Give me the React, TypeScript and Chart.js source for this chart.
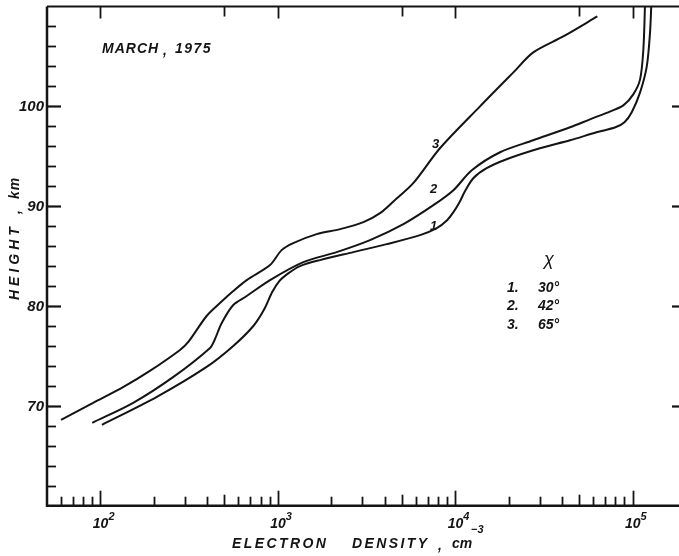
import React, { useEffect, useRef } from "react";
import { Chart, registerables } from "chart.js";
Chart.register(...registerables);

// Electron density (cm^-3) and height (km) for each solar zenith angle
const density30 = [102, 208, 397, 561, 728, 840, 930, 1020, 1150, 1334, 1729, 2666, 4110, 6339, 7870, 9000, 9772, 10650, 11350, 12650, 15040, 19490, 30000, 44400, 62600, 80000, 90000, 98900, 110200, 120200, 125400, 127500];
const height30 = [68.1, 70.9, 73.9, 76.0, 78.0, 79.7, 81.4, 82.5, 83.3, 84.0, 84.6, 85.4, 86.2, 87.1, 87.8, 88.6, 89.4, 90.5, 91.5, 92.8, 93.8, 94.7, 95.8, 96.6, 97.4, 97.9, 98.4, 99.4, 101.4, 104.0, 107.4, 110.2];

const density42 = [90, 153, 258, 415, 440, 483, 561, 668, 904, 1393, 2148, 3311, 5105, 7534, 9772, 12400, 17900, 27540, 44400, 57540, 75000, 88700, 100900, 110200, 115000, 117500];
const height42 = [68.3, 70.3, 72.9, 75.8, 76.6, 78.3, 80.1, 81.0, 82.6, 84.4, 85.4, 86.6, 88.2, 90.1, 91.6, 93.6, 95.4, 96.6, 97.9, 98.7, 99.5, 100.1, 101.2, 102.7, 105.7, 110.2];

const density65 = [60, 91, 135, 190, 281, 313, 397, 472, 561, 668, 904, 1051, 1222, 1656, 2245, 3037, 3770, 4500, 5800, 8200, 13800, 21280, 27540, 40640, 63250];
const height65 = [68.6, 70.3, 71.9, 73.5, 75.6, 76.4, 79.0, 80.3, 81.5, 82.6, 84.1, 85.6, 86.3, 87.2, 87.7, 88.4, 89.3, 90.5, 92.3, 95.8, 100.0, 103.4, 105.4, 107.0, 109.0];

const curveNumbers = ["1", "2", "3"];
const legendAngles = ["30°", "42°", "65°"];
const heightTickLabels = [70, 80, 90, 100];
const densityDecades = [100, 1000, 10000, 100000];
const decadeExponents = ["2", "3", "4", "5"];

const X_MIN = 50;
const X_MAX = 200000;
const Y_MIN = 60;
const Y_MAX = 110;

const FONT = '"Liberation Sans", Arial, sans-serif';
const INK = "#141414";

function toPoints(xs: number[], ys: number[]) {
  return xs.map((x, i) => ({ x, y: ys[i] }));
}

const paperAxes = {
  id: "paperAxes",
  afterDatasetsDraw(chart: any) {
    const { ctx, chartArea: a, scales } = chart;
    const xs = scales.x;
    const ys = scales.y;
    ctx.save();
    ctx.strokeStyle = INK;
    ctx.fillStyle = INK;
    ctx.lineCap = "butt";

    // frame
    ctx.lineWidth = 2.5;
    ctx.beginPath();
    ctx.moveTo(a.left, a.top);
    ctx.lineTo(a.left, a.bottom);
    ctx.lineTo(a.right, a.bottom);
    ctx.stroke();
    ctx.lineWidth = 2;
    ctx.beginPath();
    ctx.moveTo(a.left, a.top);
    ctx.lineTo(a.right, a.top);
    ctx.lineTo(a.right, a.bottom);
    ctx.stroke();

    // x ticks (inward)
    ctx.lineWidth = 1.8;
    for (let e = 1; e <= 5; e++) {
      for (let m = 1; m <= 9; m++) {
        const v = m * Math.pow(10, e);
        if (v <= X_MIN || v >= X_MAX) continue;
        const px = Math.round(xs.getPixelForValue(v)) + 0.5;
        const len = m === 1 ? 15 : m === 5 ? 11 : 9;
        ctx.beginPath();
        ctx.moveTo(px, a.bottom);
        ctx.lineTo(px, a.bottom - len);
        ctx.stroke();
        if (m === 1 || m === 5) {
          const tl = m === 1 ? 12 : 10;
          ctx.beginPath();
          ctx.moveTo(px, a.top);
          ctx.lineTo(px, a.top + tl);
          ctx.stroke();
        }
      }
    }

    // y ticks (inward)
    for (let h = Y_MIN + 2; h < Y_MAX; h += 2) {
      const py = Math.round(ys.getPixelForValue(h)) + 0.5;
      const major = h % 10 === 0;
      ctx.lineWidth = major ? 2.2 : 1.8;
      ctx.beginPath();
      ctx.moveTo(a.left, py);
      ctx.lineTo(a.left + (major ? 14 : 9), py);
      ctx.stroke();
      if (major) {
        ctx.beginPath();
        ctx.moveTo(a.right, py);
        ctx.lineTo(a.right - 14, py);
        ctx.stroke();
      }
    }

    // y tick labels
    ctx.font = `italic bold 15px ${FONT}`;
    ctx.textAlign = "right";
    ctx.textBaseline = "middle";
    heightTickLabels.forEach((h) => {
      ctx.fillText(String(h), a.left - 3, ys.getPixelForValue(h) + 1);
    });

    // x tick labels: 10^n
    ctx.textBaseline = "alphabetic";
    densityDecades.forEach((v, i) => {
      const px = xs.getPixelForValue(v);
      ctx.font = `italic bold 14px ${FONT}`;
      ctx.textAlign = "right";
      ctx.fillText("10", px + 8, a.bottom + 22);
      ctx.font = `italic bold 11px ${FONT}`;
      ctx.textAlign = "left";
      ctx.fillText(decadeExponents[i], px + 8, a.bottom + 14);
    });

    // x axis title
    ctx.textAlign = "left";
    ctx.font = `italic bold 14px ${FONT}`;
    (ctx as any).letterSpacing = "2.4px";
    ctx.fillText("ELECTRON", 232, 548);
    ctx.fillText("DENSITY", 352, 548);
    (ctx as any).letterSpacing = "0px";
    ctx.fillText(",", 438, 550);
    ctx.fillText("cm", 452, 548);
    ctx.font = `italic bold 11px ${FONT}`;
    ctx.fillText("−3", 471, 533);

    // y axis title (rotated)
    ctx.save();
    ctx.translate(19, 0);
    ctx.rotate(-Math.PI / 2);
    ctx.font = `italic bold 14px ${FONT}`;
    (ctx as any).letterSpacing = "4px";
    ctx.textAlign = "left";
    ctx.fillText("HEIGHT", -300, 0);
    (ctx as any).letterSpacing = "0px";
    ctx.fillText(",", -214, 1);
    (ctx as any).letterSpacing = "1px";
    ctx.fillText("km", -199, 0);
    ctx.restore();

    // date annotation
    ctx.font = `italic bold 14px ${FONT}`;
    (ctx as any).letterSpacing = "1px";
    ctx.textAlign = "left";
    ctx.fillText("MARCH", 102, 53);
    (ctx as any).letterSpacing = "0px";
    ctx.fillText(",", 163, 55);
    (ctx as any).letterSpacing = "1.5px";
    ctx.fillText("1975", 175, 53);
    (ctx as any).letterSpacing = "0px";

    // curve numbers
    ctx.font = `italic bold 13px ${FONT}`;
    ctx.textAlign = "left";
    const labelPos = [
      [430, 230],
      [430, 193],
      [432, 148],
    ];
    curveNumbers.forEach((t, i) => ctx.fillText(t, labelPos[i][0], labelPos[i][1]));

    // legend
    ctx.font = `italic 18px ${FONT}`;
    ctx.textAlign = "center";
    ctx.fillText("χ", 549, 265);
    ctx.font = `italic bold 14px ${FONT}`;
    const rowBase = [292, 310, 329];
    legendAngles.forEach((t, i) => {
      ctx.textAlign = "left";
      ctx.fillText(curveNumbers[i] + ".", 507, rowBase[i]);
      ctx.fillText(t, 538, rowBase[i]);
    });

    ctx.restore();
  },
};

export default function App() {
  const canvasRef = useRef<HTMLCanvasElement | null>(null);

  useEffect(() => {
    const canvas = canvasRef.current;
    if (!canvas) return;
    const lineStyle = {
      borderColor: INK,
      borderWidth: 2,
      pointRadius: 0,
      fill: false,
      tension: 0.3,
    };
    const chart = new Chart(canvas, {
      type: "line",
      data: {
        datasets: [
          { label: "30°", data: toPoints(density30, height30), ...lineStyle },
          { label: "42°", data: toPoints(density42, height42), ...lineStyle },
          { label: "65°", data: toPoints(density65, height65), ...lineStyle },
        ],
      },
      options: {
        animation: false,
        responsive: false,
        devicePixelRatio: 1,
        layout: { padding: { left: 47, right: 14, top: 6.5, bottom: 50.3 } },
        scales: {
          x: { type: "logarithmic", min: X_MIN, max: X_MAX, display: false },
          y: { type: "linear", min: Y_MIN, max: Y_MAX, display: false },
        },
        plugins: {
          legend: { display: false },
          tooltip: { enabled: false },
          title: { display: false },
        },
      },
      plugins: [paperAxes],
    } as any);
    return () => chart.destroy();
  }, []);

  return (
    <div
      style={{
        position: "fixed",
        left: 0,
        top: 0,
        width: 679,
        height: 556,
        overflow: "hidden",
        background: "#fff",
      }}
    >
      <canvas ref={canvasRef} width={700} height={556} style={{ display: "block" }} />
    </div>
  );
}
